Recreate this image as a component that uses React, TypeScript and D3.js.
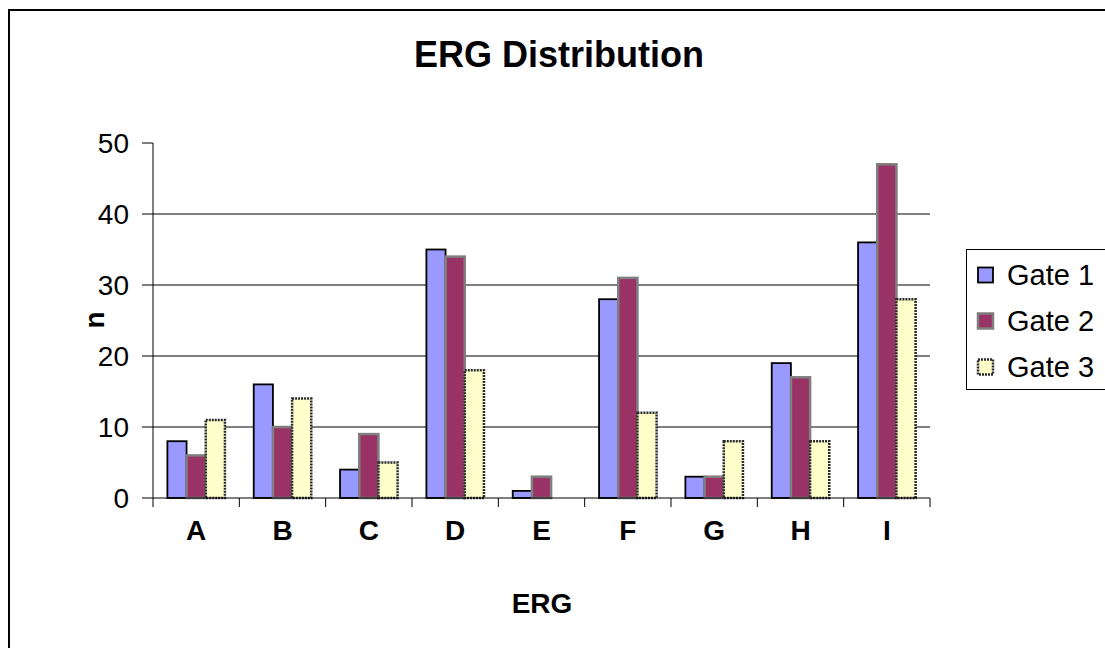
import React from "react";
import * as d3 from "d3";

const categories = ["A", "B", "C", "D", "E", "F", "G", "H", "I"];
const seriesNames = ["Gate 1", "Gate 2", "Gate 3"];
const gate1 = [8, 16, 4, 35, 1, 28, 3, 19, 36];
const gate2 = [6, 10, 9, 34, 3, 31, 3, 17, 47];
const gate3 = [11, 14, 5, 18, 0, 12, 8, 8, 28];
const yTicks = [0, 10, 20, 30, 40, 50];

const seriesValues = [gate1, gate2, gate3];
const fills = ["#9999FF", "#993366", "#FFFFCC"];
const strokes = ["#000000", "#7f7f7f", "#2a2a2a"];
const strokeWidths = [1.8, 2.5, 2.5];
const dashes = [undefined, undefined, "2,1"];

const W = 1105;
const H = 648;
const FONT = "'Liberation Sans', Arial, sans-serif";

export default function App() {
  const left = 153;
  const right = 930;
  const top = 143;
  const bottom = 498;

  const x = d3.scaleBand<string>().domain(categories).range([left, right]).paddingInner(0).paddingOuter(0);
  const inner = d3
    .scaleBand<string>()
    .domain(seriesNames)
    .range([0, x.bandwidth()])
    .paddingInner(0)
    .paddingOuter(0.75);
  const y = d3.scaleLinear().domain([0, 50]).range([bottom, top]);

  const boundaries = categories.map((c) => x(c) as number).concat([right]);

  return (
    <svg
      width={W}
      height={H}
      style={{ position: "absolute", left: 0, top: 0, background: "#fff" }}
      fontFamily={FONT}
    >
      <rect x={0} y={0} width={W} height={H} fill="#fff" />
      <rect x={9} y={10} width={W + 20} height={H + 20} fill="none" stroke="#000" strokeWidth={2} />

      <text x={559} y={67} textAnchor="middle" fontSize={36} fontWeight="bold">
        ERG Distribution
      </text>

      {/* gridlines */}
      {yTicks
        .filter((t) => t !== 0 && t !== 50)
        .map((t) => (
          <line key={"g" + t} x1={left} x2={right} y1={y(t)} y2={y(t)} stroke="#000" strokeWidth={1} />
        ))}

      {/* y axis */}
      <line x1={left} x2={left} y1={top} y2={bottom} stroke="#000" strokeWidth={1} />
      {yTicks.map((t) => (
        <g key={"yt" + t}>
          <line x1={left - 11} x2={left} y1={y(t)} y2={y(t)} stroke="#000" strokeWidth={1} />
          <text x={129} y={y(t)} dy="0.36em" textAnchor="end" fontSize={28}>
            {t}
          </text>
        </g>
      ))}

      {/* bars */}
      {seriesValues.map((vals, si) => (
        <g key={"s" + si}>
          {vals.map((v, ci) => {
            if (v === 0) return null;
            const bx = (x(categories[ci]) as number) + (inner(seriesNames[si]) as number);
            const by = y(v);
            return (
              <rect
                key={ci}
                x={bx}
                y={by}
                width={inner.bandwidth()}
                height={bottom - by}
                fill={fills[si]}
                stroke={strokes[si]}
                strokeWidth={strokeWidths[si]}
                strokeDasharray={dashes[si]}
              />
            );
          })}
        </g>
      ))}

      {/* x axis */}
      <line x1={left} x2={right} y1={bottom} y2={bottom} stroke="#000" strokeWidth={1} />
      {boundaries.map((b, i) => (
        <line key={"xt" + i} x1={b} x2={b} y1={bottom} y2={bottom + 9} stroke="#000" strokeWidth={1} />
      ))}
      {categories.map((c) => (
        <text
          key={"xl" + c}
          x={(x(c) as number) + x.bandwidth() / 2}
          y={540}
          textAnchor="middle"
          fontSize={28}
          fontWeight="bold"
        >
          {c}
        </text>
      ))}

      <text x={542} y={613} textAnchor="middle" fontSize={28} fontWeight="bold">
        ERG
      </text>
      <text
        transform={`translate(104, 320) rotate(-90)`}
        textAnchor="middle"
        fontSize={28}
        fontWeight="bold"
      >
        n
      </text>

      {/* legend */}
      <rect x={966.5} y={249.5} width={200} height={140} fill="#fff" stroke="#000" strokeWidth={1} />
      {seriesNames.map((s, i) => {
        const cy = 275 + i * 46;
        return (
          <g key={"lg" + s}>
            <rect
              x={978}
              y={cy - 7.5}
              width={15}
              height={15}
              fill={fills[i]}
              stroke={strokes[i]}
              strokeWidth={strokeWidths[i]}
              strokeDasharray={dashes[i]}
            />
            <text x={1007} y={cy} dy="0.36em" fontSize={29}>
              {s}
            </text>
          </g>
        );
      })}
    </svg>
  );
}
